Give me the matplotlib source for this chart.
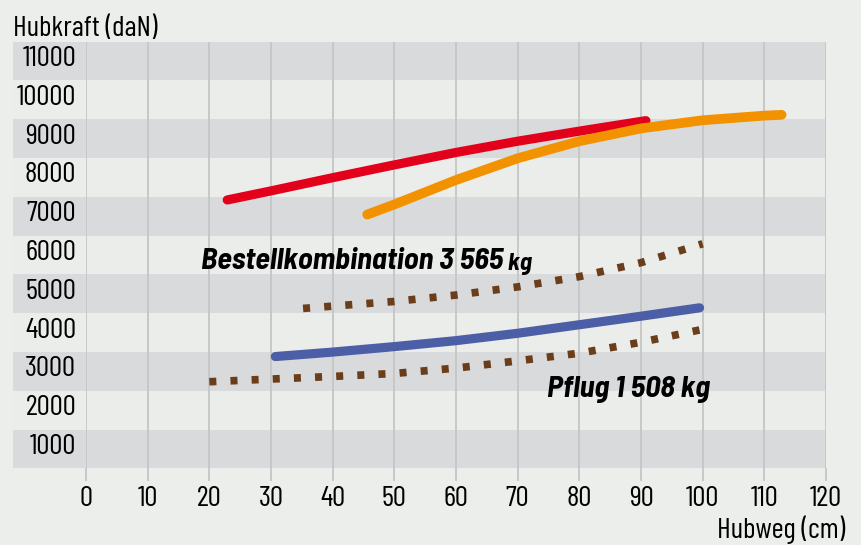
import matplotlib
matplotlib.use("Agg")
import matplotlib.pyplot as plt
import matplotlib.transforms as mtransforms
from matplotlib.patches import Rectangle

# ---- data ----
red_x = [22.9, 30, 40, 50, 60, 70, 80, 90, 90.8]
red_y = [7416, 7650, 7990, 8320, 8640, 8930, 9190, 9440, 9460]

orange_x = [45.6, 50, 60, 70, 80, 90, 100, 110, 112.8]
orange_y = [7040, 7300, 7930, 8490, 8930, 9260, 9470, 9590, 9610]

blue_x = [30.7, 40, 50, 60, 70, 80, 90, 99.5]
blue_y = [3380, 3495, 3636, 3790, 3980, 4200, 4420, 4636]

bestell_x = [35.2, 40, 50, 60, 70, 80, 90, 100]
bestell_y = [4620, 4680, 4800, 4965, 5175, 5440, 5800, 6287]

pflug_x = [20.0, 30, 40, 50, 60, 70, 80, 90, 100]
pflug_y = [2731, 2800, 2867, 2944, 3082, 3269, 3467, 3749, 4082]

x_ticks = [0, 10, 20, 30, 40, 50, 60, 70, 80, 90, 100, 110, 120]
y_ticks = [1000, 2000, 3000, 4000, 5000, 6000, 7000, 8000, 9000, 10000, 11000]

# ---- style ----
BG = "#EBEEEB"
BAND_DARK = "#D9DADC"
BAND_LIGHT = "#EBEDEB"
GRID = "#C6C7C8"
FONT = ["Barlow Condensed", "DejaVu Sans"]
FONT_ANN = ["Barlow Semi Condensed", "Barlow Condensed", "DejaVu Sans"]
FS = 21

fig = plt.figure(figsize=(8.62, 5.45), dpi=100, facecolor=BG)
ax = fig.add_axes([86/862, 1-468.3/545, (826-86)/862, (468.3-41.5)/545])
ax.set_facecolor(BG)
ax.set_xlim(0, 120)
ax.set_ylim(500, 11500)
for s in ax.spines.values():
    s.set_visible(False)

# bands (extend left behind the y labels)
for v in y_ticks:
    col = BAND_DARK if (v // 1000) % 2 == 1 else BAND_LIGHT
    ax.add_patch(Rectangle((-11.8, v - 500), 120 + 11.8, 1000, facecolor=col,
                           edgecolor="none", clip_on=False, zorder=0))

# vertical grid
for x in x_ticks:
    ax.axvline(x, color=GRID, lw=1.4, zorder=1)

ax.set_xticks(x_ticks)
ax.set_xticklabels([str(x) for x in x_ticks], family=FONT, fontsize=FS)
ax.tick_params(axis="x", length=9, width=1.4, color=GRID, pad=4)

ax.set_yticks(y_ticks)
ax.set_yticklabels([str(v) for v in y_ticks], family=FONT, fontsize=FS)
ax.tick_params(axis="y", length=0, pad=7)
off = mtransforms.ScaledTranslation(0, 5/100, fig.dpi_scale_trans)
for lab in ax.get_yticklabels():
    lab.set_transform(lab.get_transform() + off)

# curves
ax.plot(red_x, red_y, color="#E2001A", lw=6.6, solid_capstyle="round",
        solid_joinstyle="round", zorder=4)
ax.plot(orange_x, orange_y, color="#F39200", lw=7.0, solid_capstyle="round",
        solid_joinstyle="round", zorder=5)
ax.plot(blue_x, blue_y, color="#4C5FA6", lw=6.6, solid_capstyle="round",
        solid_joinstyle="round", zorder=4)
ax.plot(bestell_x, bestell_y, color="#6B3E1B", lw=5.5, linestyle=(0, (0.92, 1.85)),
        dash_capstyle="butt", zorder=4)
ax.plot(pflug_x, pflug_y, color="#6B3E1B", lw=5.5, linestyle=(0, (0.92, 1.85)),
        dash_capstyle="butt", zorder=4)

# annotations
t1 = ax.text(18.6, 5629, "Bestellkombination 3\u2009565", family=FONT_ANN, fontsize=22,
             fontweight="bold", style="italic", ha="left", va="baseline", zorder=6)
ax.annotate(" kg", xy=(1, 0), xycoords=t1, xytext=(0, 0), textcoords="offset points",
            family=FONT_ANN, fontsize=18, fontweight="bold", style="italic",
            ha="left", va="bottom", zorder=6)
ax.text(74.7, 2330, "Pflug 1\u2009508 kg", family=FONT_ANN, fontsize=22,
        fontweight="bold", style="italic", ha="left", va="baseline", zorder=6)

# axis titles
fig.text(13/862, 1-36/545, "Hubkraft (daN)", family=FONT, fontsize=FS,
         ha="left", va="baseline")
fig.text(845/862, 1-538/545, "Hubweg (cm)", family=FONT, fontsize=FS,
         ha="right", va="baseline")

fig.savefig("out.png", dpi=100, facecolor=BG)
